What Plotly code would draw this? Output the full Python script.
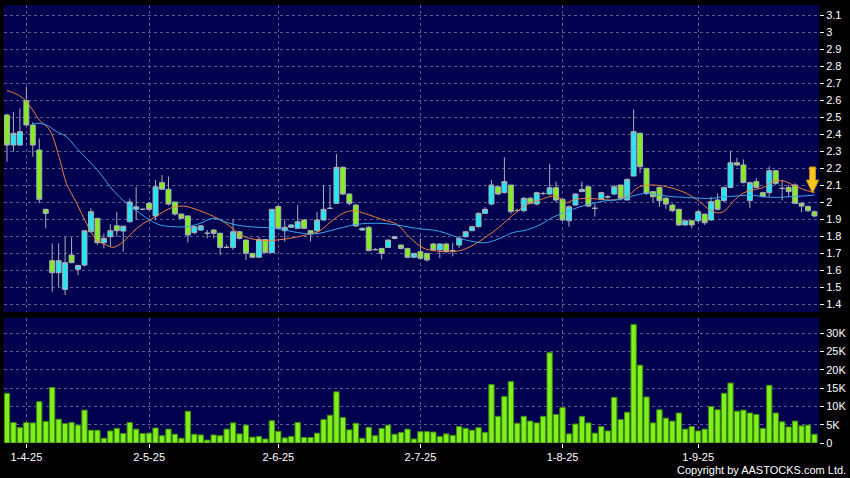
import plotly.graph_objects as go

# daily candles (index 0 = first bar on the chart)
opens = [2.512, 2.335, 2.335, 2.596, 2.453, 2.306, 1.957, 1.655, 1.584, 1.486,
         1.688, 1.604, 1.629, 1.825, 1.904, 1.761, 1.796, 1.860, 1.829, 1.884,
         1.957, 1.957, 1.992, 1.918, 2.114, 2.075, 2.000, 1.929, 1.918, 1.820,
         1.835, 1.816, 1.835, 1.816, 1.733, 1.733, 1.825, 1.776, 1.698, 1.675,
         1.780, 1.702, 1.973, 1.831, 1.851, 1.845, 1.894, 1.831, 1.831, 1.894,
         1.963, 1.992, 2.204, 2.047, 1.982, 1.835, 1.851, 1.720, 1.727, 1.733,
         1.786, 1.747, 1.727, 1.675, 1.708, 1.698, 1.753, 1.718, 1.753, 1.714,
         1.747, 1.796, 1.831, 1.855, 1.933, 1.988, 2.090, 2.055, 2.100, 1.950,
         1.949, 2.022, 1.988, 2.050, 2.047, 2.084, 2.016, 1.890, 1.982, 2.061,
         2.090, 1.963, 2.016, 2.030, 2.047, 2.100, 2.012, 2.153, 2.404, 2.198,
         2.061, 2.086, 2.022, 1.982, 1.957, 1.865, 1.890, 1.890, 1.929, 1.894,
         2.012, 2.008, 2.086, 2.231, 2.218, 2.008, 2.120, 2.055, 2.055, 2.184,
         2.080, 2.086, 2.100, 1.992, 1.973, 1.943]
highs = [2.520, 2.531, 2.551, 2.678, 2.470, 2.374, 1.960, 1.757, 1.757, 1.796,
         1.792, 1.630, 1.830, 1.963, 1.905, 1.815, 1.870, 1.943, 1.860, 2.020,
         2.090, 1.960, 2.000, 2.130, 2.159, 2.149, 2.000, 1.930, 1.920, 1.860,
         1.865, 1.835, 1.840, 1.820, 1.750, 1.898, 1.830, 1.780, 1.700, 1.796,
         1.780, 1.960, 1.980, 1.898, 1.870, 1.982, 1.900, 1.835, 1.943, 2.100,
         2.100, 2.282, 2.210, 2.050, 1.990, 1.850, 1.860, 1.730, 1.730, 1.780,
         1.800, 1.750, 1.730, 1.700, 1.786, 1.700, 1.760, 1.757, 1.760, 1.760,
         1.800, 1.830, 1.860, 1.940, 1.970, 2.130, 2.090, 2.263, 2.100, 1.960,
         2.030, 2.030, 2.060, 2.060, 2.223, 2.120, 2.020, 1.980, 2.050, 2.120,
         2.090, 1.990, 2.060, 2.040, 2.100, 2.100, 2.140, 2.545, 2.410, 2.200,
         2.060, 2.090, 2.030, 1.990, 1.960, 1.890, 1.890, 1.950, 1.930, 2.030,
         2.050, 2.090, 2.302, 2.260, 2.250, 2.120, 2.140, 2.060, 2.210, 2.190,
         2.130, 2.100, 2.110, 2.000, 1.980, 1.950]
lows = [2.237, 2.296, 2.330, 2.450, 2.267, 1.992, 1.845, 1.472, 1.500, 1.453,
        1.640, 1.570, 1.620, 1.820, 1.747, 1.727, 1.737, 1.796, 1.708, 1.880,
        1.894, 1.955, 1.950, 1.894, 2.070, 1.980, 1.920, 1.900, 1.761, 1.810,
        1.830, 1.786, 1.786, 1.688, 1.730, 1.718, 1.780, 1.659, 1.670, 1.675,
        1.700, 1.700, 1.840, 1.767, 1.850, 1.840, 1.840, 1.767, 1.820, 1.890,
        1.960, 1.990, 2.040, 1.980, 1.855, 1.830, 1.710, 1.715, 1.663, 1.730,
        1.780, 1.720, 1.670, 1.670, 1.660, 1.650, 1.710, 1.670, 1.700, 1.680,
        1.730, 1.790, 1.830, 1.850, 1.930, 1.980, 2.040, 2.050, 1.930, 1.940,
        1.940, 1.990, 1.980, 2.040, 2.040, 2.000, 1.890, 1.855, 1.980, 2.060,
        1.970, 1.914, 2.010, 2.020, 2.040, 2.010, 2.010, 2.150, 2.170, 2.040,
        2.000, 1.970, 1.960, 1.940, 1.860, 1.860, 1.845, 1.880, 1.865, 1.890,
        1.950, 2.000, 2.080, 2.210, 2.110, 1.963, 2.080, 2.030, 2.030, 2.100,
        2.010, 2.030, 1.990, 1.940, 1.940, 1.910]
closes = [2.335, 2.404, 2.414, 2.453, 2.335, 2.016, 1.933, 1.584, 1.655, 1.643,
          1.643, 1.627, 1.831, 1.943, 1.761, 1.786, 1.831, 1.831, 1.858, 2.000,
          1.972, 1.957, 1.957, 2.090, 2.075, 1.988, 1.929, 1.904, 1.806, 1.855,
          1.860, 1.816, 1.816, 1.733, 1.733, 1.825, 1.786, 1.698, 1.675, 1.780,
          1.702, 1.957, 1.845, 1.851, 1.865, 1.884, 1.845, 1.812, 1.894, 1.957,
          1.963, 2.204, 2.047, 1.992, 1.859, 1.845, 1.714, 1.720, 1.698, 1.776,
          1.796, 1.727, 1.675, 1.698, 1.669, 1.659, 1.718, 1.753, 1.708, 1.714,
          1.786, 1.825, 1.855, 1.933, 1.957, 2.100, 2.047, 2.120, 1.943, 1.950,
          2.022, 1.992, 2.055, 2.050, 2.084, 2.012, 1.894, 1.972, 2.047, 2.074,
          1.976, 1.963, 2.055, 2.030, 2.090, 2.022, 2.133, 2.414, 2.208, 2.051,
          2.031, 2.008, 1.988, 1.949, 1.865, 1.890, 1.865, 1.943, 1.878, 2.002,
          1.957, 2.086, 2.231, 2.218, 2.114, 2.114, 2.086, 2.031, 2.184, 2.110,
          2.080, 2.061, 1.992, 1.976, 1.949, 1.918]

# volume in shares
volumes = [13600, 5600, 4200, 5600, 5500, 11300, 5900, 15200, 6500, 5300,
           5600, 4900, 9000, 3500, 3500, 1300, 3300, 4000, 2600, 5600,
           3800, 2600, 2700, 4100, 2000, 3800, 2400, 1300, 8700, 2400,
           2200, 800, 2200, 2000, 3800, 5500, 2500, 4900, 1600, 1800,
           1100, 6100, 3200, 1400, 1800, 5600, 1500, 1500, 2700, 6400,
           7600, 14000, 7000, 3600, 5400, 1300, 4300, 2000, 4000, 4900,
           2400, 2900, 3800, 1100, 3100, 3100, 3000, 1800, 2500, 2100,
           4500, 4000, 3500, 4200, 2900, 16000, 7300, 12700, 16800, 5400,
           7300, 6000, 5500, 7300, 24700, 7800, 9700, 2500, 5200, 7300,
           5500, 2700, 4500, 3300, 12500, 6400, 8400, 32400, 21300, 12600,
           5500, 9100, 6800, 6000, 8200, 3800, 4500, 3300, 3800, 10000,
           9100, 13600, 16400, 8700, 9000, 8200, 7800, 4000, 15800, 8200,
           5800, 4400, 6000, 4700, 4900, 2400]

# moving averages (bar position, price)
ma_short_pos = [0, 1, 2.5, 4, 5, 6.6, 8.2, 9.2, 10.8, 12.3, 13.9, 15.4, 16.4, 18,
                19.5, 21.1, 22.6, 24.2, 25.7, 27.3, 28.8, 30.9, 32.9, 34.4, 36.5,
                39.1, 41.7, 44.3, 46.9, 48.4, 50.0, 52.1, 53.6, 55.6, 58.2, 60.3,
                62.4, 64.4, 66.0, 68.0, 70.1, 72.2, 74.2, 76.3, 78.3, 80.4, 82.5,
                84.5, 85.6, 86.6, 87.7, 89.7, 91.8, 93.8, 95.9, 97.9, 100.0, 101.5,
                103.1, 105.2, 107.2, 108.8, 109.8, 110.9, 112.4, 113.9, 115.5,
                117.1, 118.6, 120.1, 121.7, 123.2, 125]
ma_short_val = [2.655, 2.643, 2.610, 2.541, 2.482, 2.424, 2.247, 2.110, 1.992, 1.874,
                1.776, 1.747, 1.733, 1.766, 1.825, 1.874, 1.904, 1.943, 1.969, 1.976,
                1.963, 1.933, 1.898, 1.860, 1.800, 1.776, 1.776, 1.790, 1.812, 1.830,
                1.880, 1.935, 1.949, 1.930, 1.895, 1.870, 1.790, 1.730, 1.714, 1.708,
                1.714, 1.747, 1.796, 1.855, 1.923, 1.982, 2.012, 2.035, 2.022, 1.996,
                2.012, 2.022, 2.016, 2.012, 2.030, 2.090, 2.100, 2.094, 2.080, 2.051,
                2.002, 1.953, 1.937, 1.943, 2.002, 2.051, 2.071, 2.086, 2.120, 2.125,
                2.100, 2.075, 2.055]
ma_long_pos = [3.8, 4.6, 6.1, 7.7, 9.2, 10.8, 12.3, 14.4, 16.4, 18.5, 20.6, 22.1,
               23.7, 25.7, 27.8, 29.9, 31.9, 34.4, 36.5, 39.1, 41.7, 44.3, 46.9,
               48.4, 50.0, 52.1, 53.6, 55.6, 58.2, 60.3, 62.4, 64.4, 66.0, 68.0,
               70.1, 72.2, 74.2, 76.3, 78.3, 80.4, 82.5, 84.5, 86.6, 88.7, 90.7,
               92.8, 94.9, 96.9, 99.0, 101.0, 103.1, 105.2, 107.2, 109.3, 110.9,
               112.9, 115.0, 117.1, 119.1, 121.1, 123.2, 125]
ma_long_val = [2.453, 2.463, 2.453, 2.414, 2.384, 2.316, 2.257, 2.169, 2.070, 1.992,
               1.933, 1.894, 1.865, 1.855, 1.855, 1.874, 1.904, 1.875, 1.859, 1.851,
               1.845, 1.825, 1.812, 1.816, 1.831, 1.851, 1.865, 1.874, 1.874, 1.865,
               1.851, 1.840, 1.835, 1.816, 1.786, 1.767, 1.761, 1.786, 1.820, 1.835,
               1.865, 1.910, 1.943, 1.972, 1.992, 2.008, 2.014, 2.036, 2.051, 2.041,
               2.031, 2.027, 2.022, 2.022, 2.031, 2.035, 2.041, 2.031, 2.027, 2.031,
               2.035, 2.041]

tick_pos = [3, 22, 42, 64, 86, 107]
tick_text = ['1-4-25', '2-5-25', '2-6-25', '2-7-25', '1-8-25', '1-9-25']

vol_ticks = [0, 5000, 10000, 15000, 20000, 25000, 30000]
vol_text = ['0', '5K', '10K', '15K', '20K', '25K', '30K']

idx = list(range(len(closes)))

NAVY = '#00004f'
GRID = '#5d5d8f'
FONT = dict(family='Liberation Sans, Arial, sans-serif', size=11, color='#ffffff')

fig = go.Figure()

fig.add_trace(go.Candlestick(
    x=idx, open=opens, high=highs, low=lows, close=closes,
    increasing=dict(fillcolor='#20e8f4', line=dict(color='#a8b0b8', width=1)),
    decreasing=dict(fillcolor='#84ee1c', line=dict(color='#a8b0b8', width=1)),
    whiskerwidth=0, xaxis='x', yaxis='y', showlegend=False, hoverinfo='skip'
))

fig.add_trace(go.Scatter(
    x=ma_short_pos, y=ma_short_val, mode='lines', line=dict(color='#e8823c', width=1, shape='spline'),
    xaxis='x', yaxis='y', showlegend=False, hoverinfo='skip'
))
fig.add_trace(go.Scatter(
    x=ma_long_pos, y=ma_long_val, mode='lines', line=dict(color='#3aa6ec', width=1, shape='spline'),
    xaxis='x', yaxis='y', showlegend=False, hoverinfo='skip'
))

fig.add_trace(go.Bar(
    x=idx, y=volumes, marker=dict(color='#7ff01a', line=dict(color='#3f8a10', width=1)),
    xaxis='x2', yaxis='y2', showlegend=False, hoverinfo='skip'
))

# yellow down arrow at the last bar
ax, top, mid, tip = 124.7, 2.206, 2.129, 2.053
fig.add_shape(
    type='path', xref='x', yref='y',
    path=(f'M {ax-0.45},{top} L {ax+0.45},{top} L {ax+0.45},{mid} L {ax+0.95},{mid} '
          f'L {ax},{tip} L {ax-0.95},{mid} L {ax-0.45},{mid} Z'),
    fillcolor='#f4c81c', line=dict(color='#d88a10', width=1)
)

axis_common = dict(showgrid=True, gridcolor=GRID, griddash='3px,3px', gridwidth=1,
                   zeroline=False, showline=False, tickfont=FONT)

fig.update_layout(
    width=850, height=478,
    margin=dict(l=4, r=31, t=5, b=35),
    paper_bgcolor='#000000', plot_bgcolor=NAVY,
    boxgap=0.15, boxgroupgap=0.1, bargap=0.18,
    font=FONT,
    xaxis=dict(domain=[0, 1], anchor='y', range=[-0.46, 125.7], tickvals=tick_pos,
               showticklabels=False, ticks='', rangeslider=dict(visible=False), **axis_common),
    xaxis2=dict(domain=[0, 1], anchor='y2', matches='x', tickvals=tick_pos, ticktext=tick_text,
                ticks='outside', ticklen=4, tickcolor='#ffffff', **axis_common),
    yaxis=dict(domain=[0.2991, 1], anchor='x', side='right', range=[1.353, 3.159],
               dtick=0.1, tick0=0, ticks='outside', ticklen=4, tickcolor='#ffffff', **axis_common),
    yaxis2=dict(domain=[0, 0.2854], anchor='x2', side='right', range=[0, 34200],
                tickvals=vol_ticks, ticktext=vol_text, ticks='outside', ticklen=4,
                tickcolor='#ffffff', **axis_common),
)

fig.add_annotation(
    text='Copyright by AASTOCKS.com Ltd.', xref='paper', yref='paper',
    x=1.035, y=-0.0616, xanchor='right', yanchor='middle', showarrow=False,
    font=dict(family='Liberation Sans, Arial, sans-serif', size=11, color='#ffffff')
)

# page body has a default 8px margin; remove it so the figure sits at the window corner
fig.write_html('out.html', config={'displayModeBar': False},
               post_script="document.body.style.margin='0px';")
